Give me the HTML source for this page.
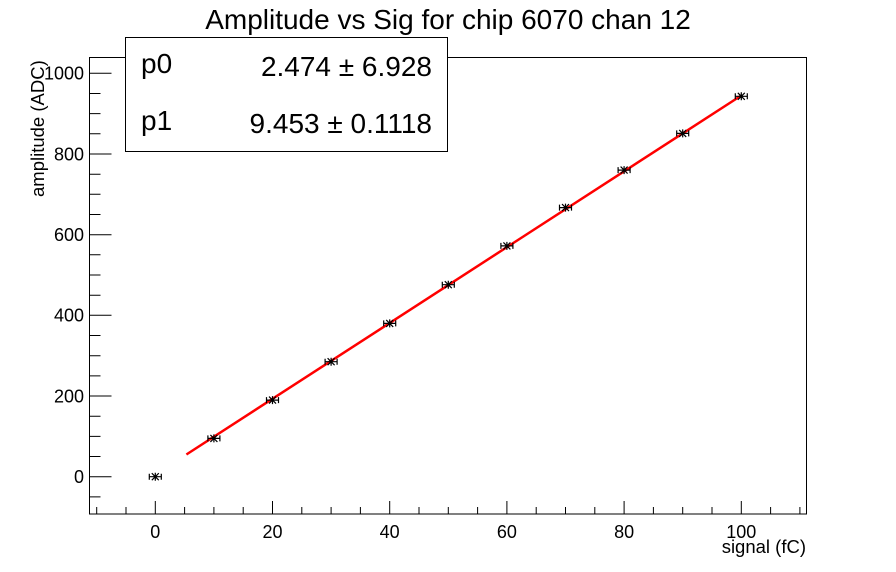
<!DOCTYPE html>
<html><head><meta charset="utf-8"><style>html,body{margin:0;padding:0;background:#fff}svg{display:block}</style></head>
<body>
<svg width="896" height="572" xmlns="http://www.w3.org/2000/svg" xmlns:xlink="http://www.w3.org/1999/xlink" font-family="Liberation Sans, sans-serif">
<defs>
<g id="m" stroke="#000" stroke-width="1.2" fill="none">
<path d="M-6,0H6M-6,-3V3M6,-3V3M0,-4V4M-3.5,-3.5L3.5,3.5M-3.5,3.5L3.5,-3.5"/>
</g>
</defs>
<rect width="896" height="572" fill="#fff"/>
<text x="448" y="29" font-size="28" text-anchor="middle">Amplitude vs Sig for chip 6070 chan 12</text>
<rect x="89.5" y="57.5" width="717" height="456.5" fill="none" stroke="#000" stroke-width="1"/>
<path stroke="#000" stroke-width="1" fill="none" d="
M96.7,514v-7 M126,514v-7 M155.3,514v-13 M184.6,514v-7 M213.9,514v-7 M243.2,514v-7 M272.5,514v-13 M301.8,514v-7 M331.1,514v-7 M360.4,514v-7 M389.7,514v-13 M419,514v-7 M448.3,514v-7 M477.6,514v-7 M506.9,514v-13 M536.2,514v-7 M565.5,514v-7 M594.8,514v-7 M624.1,514v-13 M653.4,514v-7 M682.7,514v-7 M712,514v-7 M741.3,514v-13 M770.6,514v-7 M799.9,514v-7
M89.5,496.9h11 M89.5,476.7h22 M89.5,456.5h11 M89.5,436.4h11 M89.5,416.2h11 M89.5,396h22 M89.5,375.9h11 M89.5,355.7h11 M89.5,335.5h11 M89.5,315.3h22 M89.5,295.2h11 M89.5,275h11 M89.5,254.8h11 M89.5,234.7h22 M89.5,214.5h11 M89.5,194.3h11 M89.5,174.2h11 M89.5,154h22 M89.5,133.8h11 M89.5,113.6h11 M89.5,93.5h11 M89.5,73.3h22"/>
<g font-size="18">
<text x="155.3" y="538" text-anchor="middle">0</text>
<text x="272.5" y="538" text-anchor="middle">20</text>
<text x="389.7" y="538" text-anchor="middle">40</text>
<text x="506.9" y="538" text-anchor="middle">60</text>
<text x="624.1" y="538" text-anchor="middle">80</text>
<text x="741.3" y="538" text-anchor="middle">100</text>
<text x="84" y="483" text-anchor="end">0</text>
<text x="84" y="402.3" text-anchor="end">200</text>
<text x="84" y="321.6" text-anchor="end">400</text>
<text x="84" y="241" text-anchor="end">600</text>
<text x="84" y="160.3" text-anchor="end">800</text>
<text x="84" y="79.6" text-anchor="end">1000</text>
</g>
<polyline points="186.4,454.5 741.3,95.5" fill="none" stroke="#f00" stroke-width="2.5"/>
<use xlink:href="#m" transform="translate(155.3,476.7)"/>
<use xlink:href="#m" transform="translate(213.9,438.4)"/>
<use xlink:href="#m" transform="translate(272.5,400.1)"/>
<use xlink:href="#m" transform="translate(331.1,361.7)"/>
<use xlink:href="#m" transform="translate(389.7,323.4)"/>
<use xlink:href="#m" transform="translate(448.3,284.7)"/>
<use xlink:href="#m" transform="translate(506.9,245.9)"/>
<use xlink:href="#m" transform="translate(565.5,207.6)"/>
<use xlink:href="#m" transform="translate(624.1,170.1)"/>
<use xlink:href="#m" transform="translate(682.7,133.4)"/>
<use xlink:href="#m" transform="translate(741.3,96.3)"/>
<text x="806" y="553" font-size="18.5" text-anchor="end">signal (fC)</text>
<text transform="translate(44,197) rotate(-90)" font-size="18.5">amplitude (ADC)</text>
<rect x="125.5" y="37.5" width="322" height="114" fill="#fff" stroke="#000" stroke-width="1"/>
<text x="141" y="73" font-size="28">p0</text>
<text x="432" y="76" font-size="28" text-anchor="end">2.474 ± 6.928</text>
<text x="141" y="130" font-size="28">p1</text>
<text x="432" y="133" font-size="28" text-anchor="end">9.453 ± 0.1118</text>
</svg>
</body></html>
